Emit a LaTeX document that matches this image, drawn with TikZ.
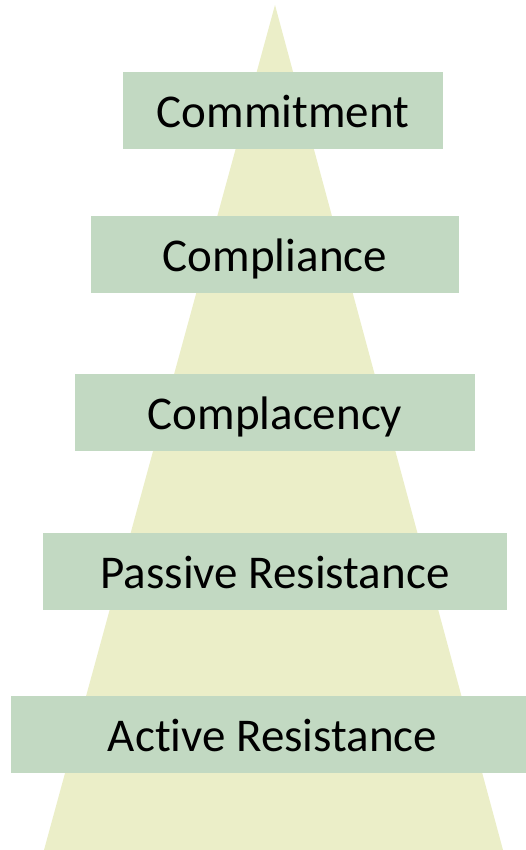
\documentclass[tikz,border=0pt]{standalone}
\usepackage{fontspec}
\setmainfont{Carlito}[Ligatures=NoCommon]
\usetikzlibrary{positioning}
\definecolor{conefill}{RGB}{235,238,200}
\definecolor{stagefill}{RGB}{194,217,194}

\begin{document}
\begin{tikzpicture}[x=1pt,y=1pt,
	stage/.style={fill=stagefill, minimum height=77pt, inner sep=0pt, text height=35pt, text depth=0pt, font=\fontsize{47}{56}\selectfont}]
		\useasboundingbox (0,0) rectangle (525,850);
		
		%cone
		\coordinate (tip) at (275,845);
		\coordinate (bl) at (44,0);
		\coordinate (br) at (503,0);
		\fill[conefill] (bl) -- (tip) -- (br) -- cycle;
		
		%stages
		\node (commit) [stage, minimum width=320pt] at (283,739.5) {Commitment};
		\node (comply) [stage, minimum width=368pt] at (275,595.5) {Compliance};
		\node (complac) [stage, minimum width=400pt] at (275,437.5) {Complacency};
		\node (passive) [stage, minimum width=464pt] at (275,278.5) {Passive Resistance};
		\node (active) [stage, minimum width=523pt] at (272.5,115.5) {Active Resistance};
\end{tikzpicture}
\end{document}
